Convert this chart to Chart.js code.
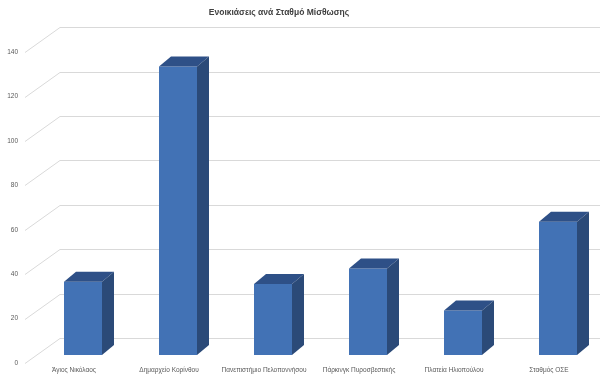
<!DOCTYPE html>
<html>
<head>
<meta charset="utf-8">
<script src="https://cdn.jsdelivr.net/npm/chart.js@4/dist/chart.umd.min.js"></script>
<style>
  html, body { margin: 0; padding: 0; background: #fff; overflow: hidden; }
  canvas { display: block; }
</style>
</head>
<body>
<canvas id="enoikiaseis" width="600" height="379"></canvas>
<script>
var stathmoi = ['Άγιος Νικόλαος', 'Δημαρχείο Κορίνθου', 'Πανεπιστήμιο Πελοποννήσου', 'Πάρκινγκ Πυροσβεστικής', 'Πλατεία Ηλιοπούλου', 'Σταθμός ΟΣΕ'];
var enoikiaseis = [33, 130, 32, 39, 20, 60];
var aksonasY = [0, 20, 40, 60, 80, 100, 120, 140];

// fake 3d depth
var DX = 12, DY = 10;

var plegma3d = {
  id: 'plegma3d',
  beforeDatasetsDraw(chart) {
    var ctx = chart.ctx;
    var y = chart.scales.y;
    ctx.save();
    ctx.strokeStyle = '#d9d9d9';
    ctx.lineWidth = 1;
    aksonasY.forEach(function (v) {
      var py = Math.round(y.getPixelForValue(v)) + 0.5;
      ctx.beginPath();
      ctx.moveTo(25, py + 8);
      ctx.lineTo(60, py - 17);
      ctx.lineTo(600, py - 17);
      ctx.stroke();
    });
    ctx.restore();
  },
  afterDatasetsDraw(chart) {
    var ctx = chart.ctx;
    ctx.save();
    chart.getDatasetMeta(0).data.forEach(function (bar) {
      var l = bar.x - bar.width / 2;
      var r = bar.x + bar.width / 2;
      ctx.fillStyle = '#2e5087';
      ctx.beginPath();
      ctx.moveTo(l, bar.y);
      ctx.lineTo(l + DX, bar.y - DY);
      ctx.lineTo(r + DX, bar.y - DY);
      ctx.lineTo(r, bar.y);
      ctx.closePath();
      ctx.fill();
      ctx.fillStyle = '#2b4a78';
      ctx.beginPath();
      ctx.moveTo(r, bar.y);
      ctx.lineTo(r + DX, bar.y - DY);
      ctx.lineTo(r + DX, bar.base - DY);
      ctx.lineTo(r, bar.base);
      ctx.closePath();
      ctx.fill();
    });
    ctx.restore();
  }
};

new Chart(document.getElementById('enoikiaseis'), {
  type: 'bar',
  plugins: [plegma3d],
  data: {
    labels: stathmoi,
    datasets: [{
      label: 'Ενοικιάσεις',
      data: enoikiaseis,
      backgroundColor: '#4272b5',
      barPercentage: 0.4,
      categoryPercentage: 1,
      clip: false
    }]
  },
  options: {
    responsive: false,
    animation: false,
    layout: { padding: { left: 0, right: 42, top: 0, bottom: 0 } },
    plugins: {
      legend: { display: false },
      tooltip: { enabled: false },
      title: {
        display: true,
        text: 'Ενοικιάσεις ανά Σταθμό Μίσθωσης',
        color: '#404040',
        font: { family: 'Liberation Sans', size: 8.5, weight: 'bold' },
        padding: { top: 8, bottom: 26 }
      }
    },
    scales: {
      x: {
        offset: false,
        grid: { display: false, drawTicks: false },
        border: { display: false },
        ticks: {
          color: '#595959',
          font: { family: 'Liberation Sans', size: 6.5 },
          maxRotation: 0,
          autoSkip: false,
          padding: 11,
          labelOffset: -9
        },
        afterFit(scale) {
          scale.height = 24;
          scale.paddingLeft = 0;
          scale.paddingRight = 0;
        }
      },
      y: {
        min: 0,
        max: 140,
        ticks: {
          stepSize: 20,
          color: '#595959',
          font: { family: 'Liberation Sans', size: 6.5 },
          padding: 65,
          labelOffset: 8
        },
        grid: { display: false, drawTicks: false },
        border: { display: false },
        afterFit(scale) {
          scale.width = 83;
          scale.paddingTop = 0;
          scale.paddingBottom = 0;
        }
      }
    }
  }
});
</script>
</body>
</html>
